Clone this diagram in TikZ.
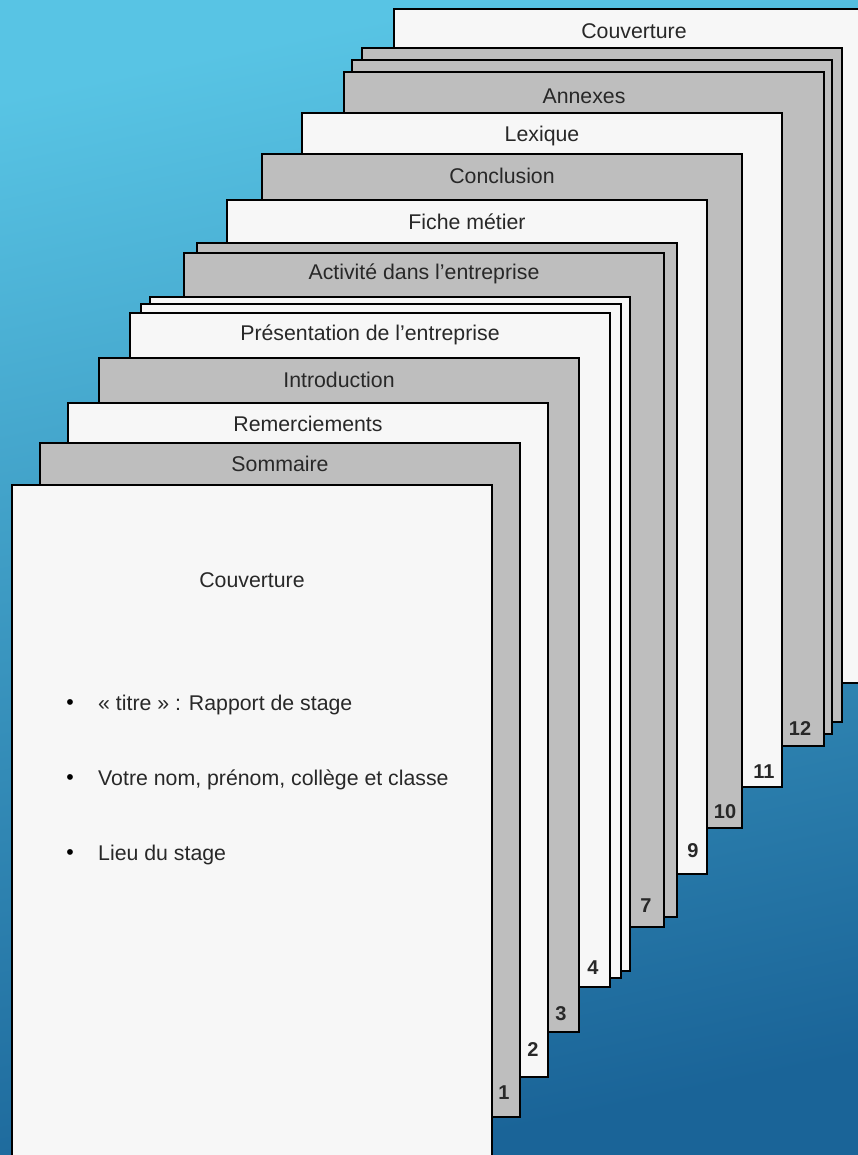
\documentclass[tikz,border=0pt]{standalone}
\usepackage{fontspec}
\setmainfont{Liberation Sans}
\usetikzlibrary{calc}
\definecolor{bgtop}{RGB}{88,196,228}
\definecolor{bgbot}{RGB}{26,100,152}
\definecolor{pagegray}{RGB}{190,190,190}
\definecolor{pagewhite}{RGB}{247,247,247}
\definecolor{txt}{RGB}{40,40,40}
\tikzset{
  page/.style={draw=black, line width=2.6pt, minimum width=480pt, minimum height=674pt,
    anchor=north west, inner sep=0pt, outer sep=0pt},
  graypg/.style={page, fill=pagegray},
  whitepg/.style={page, fill=pagewhite},
  title/.style={text=txt, font=\fontsize{21.3}{25}\selectfont, inner sep=0pt},
  num/.style={text=txt, font=\fontsize{20}{24}\selectfont\bfseries, inner sep=0pt},
  item/.style={text=txt, font=\fontsize{21.3}{25}\selectfont, inner sep=0pt, anchor=west},
  bul/.style={text=black, font=\fontsize{21.3}{25}\selectfont, inner sep=0pt}
}
\begin{document}
\begin{tikzpicture}[x=1pt,y=-1pt]
\useasboundingbox (0,0) rectangle (858,1155);
\clip (0,0) rectangle (858,1155);
\shade[top color=bgtop, bottom color=bgbot, shading angle=12] (-10,-10) rectangle (868,1165);
% pages, back to front
\node[whitepg] (pb) at (394,9) {};
\node[title] (tpb) at ($(pb.north)+(0,22)$) {Couverture};
\node[graypg] (pg1) at (362,48) {};
\node[graypg] (pg2) at (352,60) {};
\node[graypg] (p12) at (344,72) {};
\node[title] (t12) at ($(p12.north)+(0,24)$) {Annexes};
\node[num] (n12) at ($(p12.south east)+(-24,-17)$) {12};
\node[whitepg] (p11) at (302,113) {};
\node[title] (t11) at ($(p11.north)+(0,23)$) {Lexique};
\node[num] (n11) at ($(p11.south east)+(-18,-15)$) {11};
\node[graypg] (p10) at (262,154) {};
\node[title] (t10) at ($(p10.north)+(0,22)$) {Conclusion};
\node[num] (n10) at ($(p10.south east)+(-17,-16)$) {10};
\node[whitepg] (p9) at (227,200) {};
\node[title] (t9) at ($(p9.north)+(0,22)$) {Fiche métier};
\node[num] (n9) at ($(p9.south east)+(-14,-23)$) {9};
\node[graypg] (p8) at (197,243) {};
\node[graypg] (p7) at (184,253) {};
\node[title] (t7) at ($(p7.north)+(0,21)$) {Activité dans l’entreprise};
\node[num] (n7) at ($(p7.south east)+(-18,-21)$) {7};
\node[whitepg] (p6) at (150,297) {};
\node[whitepg] (p5) at (141,304) {};
\node[whitepg] (p4) at (130,313) {};
\node[title] (t4) at ($(p4.north)+(0,22)$) {Présentation de l’entreprise};
\node[num] (n4) at ($(p4.south east)+(-17,-19)$) {4};
\node[graypg] (p3) at (99,358) {};
\node[title] (t3) at ($(p3.north)+(0,22)$) {Introduction};
\node[num] (n3) at ($(p3.south east)+(-18,-18)$) {3};
\node[whitepg] (p2) at (68,403) {};
\node[title] (t2) at ($(p2.north)+(0,21)$) {Remerciements};
\node[num] (n2) at ($(p2.south east)+(-15,-27)$) {2};
\node[graypg] (p1) at (40,443) {};
\node[title] (t1) at ($(p1.north)+(0,21)$) {Sommaire};
\node[num] (n1) at ($(p1.south east)+(-16,-24)$) {1};
\node[whitepg] (p0) at (12,485) {};
\node[title] (t0) at ($(p0.north)+(0,95)$) {Couverture};
% bullet list
\node[bul] (b1) at (70,705) {•};
\node[item] (i1) at (98,705) {« titre » : Rapport de stage};
\node[bul] (b2) at (70,780) {•};
\node[item] (i2) at (98,780) {Votre nom, prénom, collège et classe};
\node[bul] (b3) at (70,855) {•};
\node[item] (i3) at (98,855) {Lieu du stage};
\end{tikzpicture}
\end{document}
